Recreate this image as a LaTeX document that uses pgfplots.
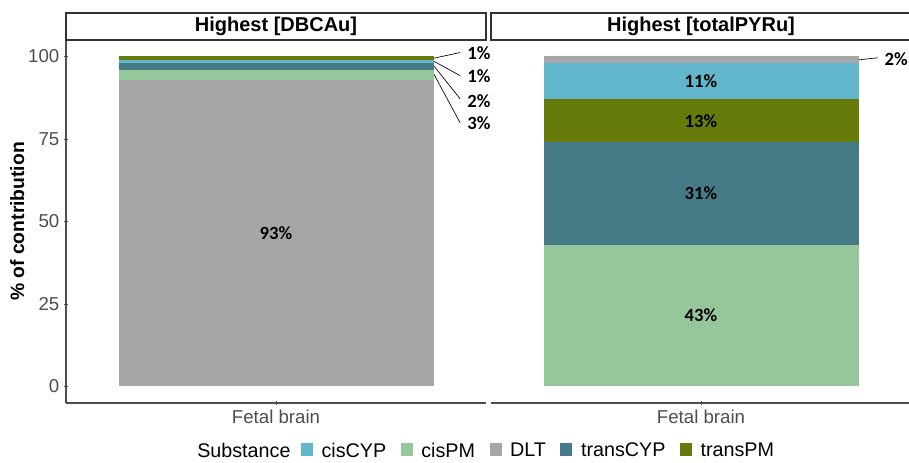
\documentclass[border=0pt]{standalone}
\usepackage{pgfplots}
\pgfplotsset{compat=1.18}
\usepackage{fontspec}
\setmainfont{Liberation Sans}
\newfontfamily\lblfont{Carlito}
\definecolor{cisCYP}{HTML}{62B6CB}
\definecolor{cisPM}{HTML}{96C79A}
\definecolor{DLT}{HTML}{A6A6A6}
\definecolor{transCYP}{HTML}{457B86}
\definecolor{transPM}{HTML}{667C0A}
\definecolor{axgray}{HTML}{4D4D4D}
\definecolor{linegray}{HTML}{333333}
\pgfplotsset{
  panel/.style={
    scale only axis, width=315pt, height=272.25pt,
    xmin=0.4, xmax=1.6, ymin=-5, ymax=105, enlargelimits=false,
    ybar stacked, bar width=0.9, clip=false,
    xtick={1}, xticklabels={Fetal brain},
    tick align=outside, major tick length=3pt,
    tick style={axgray, line width=0.5pt},
    ticklabel style={font=\fontsize{14}{16}\selectfont, text=axgray},
    /pgf/number format/assume math mode=true,
  },
  nolinearrow/.style={
    axis line style={axgray, line width=0.8pt},
    every outer x axis line/.append style={-},
    every outer y axis line/.append style={-},
    x axis line style={-}, y axis line style={-},
  },
}
\tikzset{lbl/.style={font=\lblfont\bfseries\fontsize{14}{16}\selectfont, text=black}}
\begin{document}
\begin{tikzpicture}
\useasboundingbox (0,0) rectangle (681.75pt,347.25pt);
% Left panel
\begin{axis}[panel, at={(49.5pt,45pt)}, anchor=south west,
  axis x line=bottom, axis y line=left, nolinearrow,
  ytick={0,25,50,75,100},
  ylabel={\textbf{\% of contribution}},
  ylabel style={font=\bfseries\fontsize{14.5}{16}\selectfont, text=black},
  ylabel shift=-4pt,
]
\addplot[fill=DLT, draw=none] coordinates {(1,93)};
\addplot[fill=cisPM, draw=none] coordinates {(1,3)};
\addplot[fill=transCYP, draw=none] coordinates {(1,2)};
\addplot[fill=cisCYP, draw=none] coordinates {(1,1)};
\addplot[fill=transPM, draw=none] coordinates {(1,1)};
\coordinate (L93) at (axis cs:1,46.5);
\draw[black, line width=0.5pt] (axis cs:1.452,99.5) -- (axis cs:1.526,101.2);
\draw[black, line width=0.5pt] (axis cs:1.452,98.5) -- (axis cs:1.526,94.2);
\draw[black, line width=0.5pt] (axis cs:1.452,97) -- (axis cs:1.526,87.2);
\draw[black, line width=0.5pt] (axis cs:1.452,94.5) -- (axis cs:1.526,79.9);
\node[lbl, anchor=west, inner sep=0pt] at (axis cs:1.546,100.9) {1\%};
\node[lbl, anchor=west, inner sep=0pt] at (axis cs:1.546,93.9) {1\%};
\node[lbl, anchor=west, inner sep=0pt] at (axis cs:1.546,86.6) {2\%};
\node[lbl, anchor=west, inner sep=0pt] at (axis cs:1.546,79.9) {3\%};
\end{axis}
% Right panel
\begin{axis}[panel, at={(368.25pt,45pt)}, anchor=south west,
  axis x line=bottom, axis y line=none, nolinearrow,
  ytick=\empty,
]
\addplot[fill=cisPM, draw=none] coordinates {(1,43)};
\addplot[fill=transCYP, draw=none] coordinates {(1,31)};
\addplot[fill=transPM, draw=none] coordinates {(1,13)};
\addplot[fill=cisCYP, draw=none] coordinates {(1,11)};
\addplot[fill=DLT, draw=none] coordinates {(1,2)};
\coordinate (R43) at (axis cs:1,21.5);
\coordinate (R31) at (axis cs:1,58.5);
\coordinate (R13) at (axis cs:1,80.5);
\coordinate (R11) at (axis cs:1,92.5);
\draw[black, line width=0.5pt] (axis cs:1.452,99) -- (axis cs:1.505,99.6);
\node[lbl, anchor=west, inner sep=0pt] at (axis cs:1.524,99.1) {2\%};
\end{axis}
\node[lbl] at (L93) {93\%};
\node[lbl] at (R43) {43\%};
\node[lbl] at (R31) {31\%};
\node[lbl] at (R13) {13\%};
\node[lbl] at (R11) {11\%};
% Strips and legend
\begin{scope}[x=0.75pt,y=0.75pt]
\draw[linegray, line width=0.8pt, fill=white] (66,423) rectangle (486,450);
\draw[linegray, line width=0.8pt, fill=white] (491,423) rectangle (915,450);
\node[font=\bfseries\fontsize{15}{17}\selectfont] at (276,436.5) {Highest [DBCAu]};
\node[font=\bfseries\fontsize{15}{17}\selectfont] at (701,436.5) {Highest [totalPYRu]};
\begin{scope}[every node/.style={inner sep=0pt, font=\fontsize{14.8}{17}\selectfont},
  key/.style={minimum width=9pt, minimum height=9.75pt, inner sep=0pt, anchor=west}]
\node[anchor=west] (t0) at (197,13) {Substance};
\node[key, fill=cisCYP] (k1) at ([xshift=7.5pt]t0.east) {};
\node[anchor=west] (t1) at ([xshift=6pt]k1.east) {cisCYP};
\node[key, fill=cisPM] (k2) at ([xshift=10.5pt]t1.east) {};
\node[anchor=west] (t2) at ([xshift=6pt]k2.east) {cisPM};
\node[key, fill=DLT] (k3) at ([xshift=10.5pt]t2.east) {};
\node[anchor=west] (t3) at ([xshift=6pt]k3.east) {DLT};
\node[key, fill=transCYP] (k4) at ([xshift=10.5pt]t3.east) {};
\node[anchor=west] (t4) at ([xshift=6pt]k4.east) {transCYP};
\node[key, fill=transPM] (k5) at ([xshift=10.5pt]t4.east) {};
\node[anchor=west] (t5) at ([xshift=6pt]k5.east) {transPM};
\end{scope}
\end{scope}
\end{tikzpicture}
\end{document}
